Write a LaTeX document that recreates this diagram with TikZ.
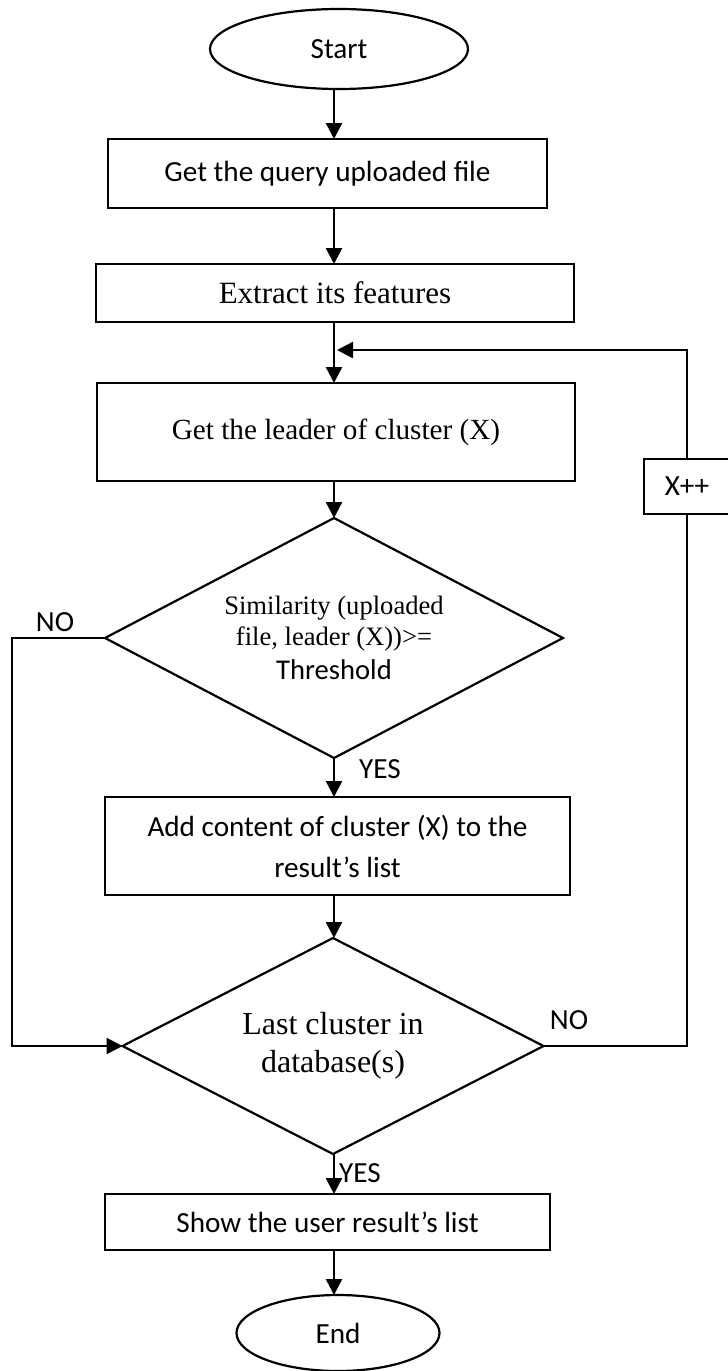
\documentclass[tikz,border=0pt]{standalone}
\usepackage{fontspec}
\setmainfont{Carlito}
\newfontfamily\tnr{Liberation Serif}
\usetikzlibrary{shapes.geometric,arrows.meta}

\begin{document}
\begin{tikzpicture}[x=0.5pt,y=-0.5pt,
  every node/.style={inner sep=0pt, outer sep=0pt},
  box/.style={draw, line width=1.1pt, rectangle, align=center},
  term/.style={draw, line width=1.1pt, ellipse},
  decide/.style={draw, line width=1.1pt, diamond, aspect=2, align=center},
  arr/.style={line width=1.2pt, -{Triangle[length=8pt,width=8pt]}},
  link/.style={line width=1.2pt},
  cal/.style={font=\fontsize{14.6}{17.5}\selectfont},
  tms/.style={font=\tnr\fontsize{14.6}{17.5}\selectfont},
]
\useasboundingbox (0,0) rectangle (728,1371);

% flow nodes
\node[term, cal, minimum width=129pt, minimum height=40pt] (start) at (339,49) {Start};
\node[box, cal, minimum width=219.5pt, minimum height=34.5pt] (box1) at (327.5,173.5) {Get the query uploaded file};
\node[box, font=\tnr\fontsize{15.5}{18}\selectfont, minimum width=239pt, minimum height=29pt] (box2) at (335,293) {Extract its features};
\node[box, tms, minimum width=239pt, minimum height=49pt] (box3) at (336,432) {Get the leader of cluster (X)};
\node[decide, font=\tnr\fontsize{13.3}{15.5}\selectfont, minimum width=229pt, minimum height=120pt] (d1) at (334,638)
  {Similarity (uploaded\\ file, leader (X))>=\\[1.5pt] {\rmfamily\fontsize{14.3}{15.5}\selectfont Threshold}};
\node[box, font=\fontsize{14.6}{20.5}\selectfont, minimum width=232.5pt, minimum height=49pt] (box4) at (337.5,846)
  {Add content of cluster (X) to the\\ result’s list};
\node[decide, font=\tnr\fontsize{16}{19}\selectfont, minimum width=210.5pt, minimum height=108pt] (d2) at (333,1046)
  {Last cluster in\\ database(s)};
\node[box, cal, minimum width=222.5pt, minimum height=28pt] (box5) at (327.5,1222) {Show the user result’s list};
\node[term, cal, minimum width=101.5pt, minimum height=38pt] (end) at (338,1333) {End};
\node[box, cal, minimum width=43pt, minimum height=27.5pt] (xpp) at (687,486.5) {X++};

% branch labels
\node[cal] (noA) at (55,622) {NO};
\node[cal] (yesA) at (380,769) {YES};
\node[cal] (noB) at (569,1020) {NO};
\node[cal] (yesB) at (360,1173) {YES};

% helper coordinates for the routing
\coordinate (axis) at (334,0);
\coordinate (rail) at (12,0);
\coordinate (joint) at (337,350);

% main column
\draw[arr] (start.south -| axis) -- (box1.north -| axis);
\draw[arr] (box1.south -| axis) -- (box2.north -| axis);
\draw[arr] (box2.south -| axis) -- (box3.north -| axis);
\draw[arr] (box3.south -| axis) -- (d1.north -| axis);
\draw[arr] (d1.south -| axis) -- (box4.north -| axis);
\draw[arr] (box4.south -| axis) -- (d2.north -| axis);
\draw[arr] (d2.south -| axis) -- (box5.north -| axis);
\draw[arr] (box5.south -| axis) -- (end.north -| axis);

% NO from the similarity test: skip to the last-cluster test
\draw[arr] (d1.west) -- (d1.west -| rail) |- (d2.west);

% NO from the last-cluster test: next cluster and back
\draw[link] (d2.east) -- (d2.east -| xpp.south) -- (xpp.south);
\draw[arr] (xpp.north) |- (joint);
\end{tikzpicture}
\end{document}
